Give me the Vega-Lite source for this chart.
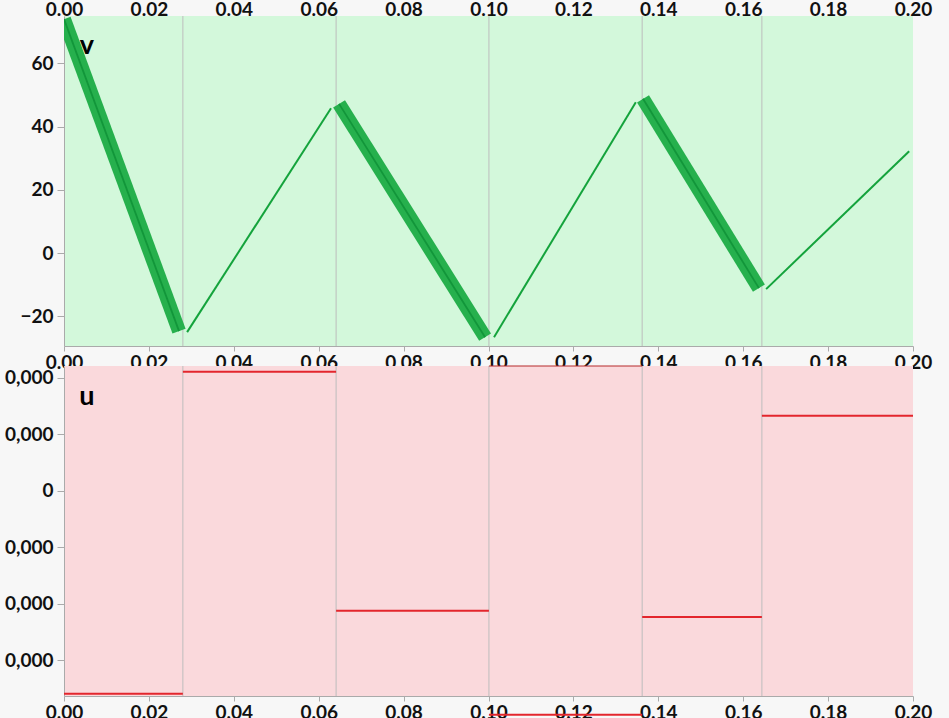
{
  "$schema": "https://vega.github.io/schema/vega-lite/v6.json",
  "background": "#f7f7f7",
  "padding": {"left": 4, "top": 0, "right": 17, "bottom": 0},
  "bounds": "flush",
  "spacing": 20,
  "config": {
    "font": "Lato",
    "view": {"stroke": null},
    "axis": {
      "labelFont": "Lato",
      "labelFontSize": 19,
      "labelFontWeight": "bold",
      "labelColor": "#111111",
      "domainColor": "#aaaaaa",
      "tickColor": "#aaaaaa",
      "grid": false
    }
  },
  "datasets": {
    "bounds": [{"x": 0.028}, {"x": 0.0641}, {"x": 0.1001}, {"x": 0.1362}, {"x": 0.1644}],
    "vthick": [
      {"seg": 1, "x": 0.0, "v": 74.0}, {"seg": 1, "x": 0.0271, "v": -24.7},
      {"seg": 3, "x": 0.0648, "v": 47.2}, {"seg": 3, "x": 0.0992, "v": -26.6},
      {"seg": 5, "x": 0.1364, "v": 48.8}, {"seg": 5, "x": 0.1637, "v": -11.1}
    ],
    "vthin": [
      {"seg": 2, "x": 0.029, "v": -25.0}, {"seg": 2, "x": 0.0629, "v": 45.8},
      {"seg": 4, "x": 0.1013, "v": -26.6}, {"seg": 4, "x": 0.1347, "v": 47.7},
      {"seg": 6, "x": 0.1654, "v": -11.4}, {"seg": 6, "x": 0.1991, "v": 32.2}
    ],
    "u": [
      {"x": 0.0, "x2": 0.028, "u": -0.000359},
      {"x": 0.028, "x2": 0.0641, "u": 0.000211},
      {"x": 0.0641, "x2": 0.1001, "u": -0.000212},
      {"x": 0.1001, "x2": 0.1362, "u": -0.000396},
      {"x": 0.1362, "x2": 0.1644, "u": -0.000223},
      {"x": 0.1644, "x2": 0.2, "u": 0.000133}
    ],
    "uedge": [{"x": 0.1001, "x2": 0.1362, "u": 0.000221}],
    "vlabel": [{"name": "v"}],
    "ulabel": [{"name": "u"}]
  },
  "vconcat": [
    {
      "width": 849,
      "height": 330,
      "view": {"fill": "#d3f8db", "stroke": null},
      "resolve": {"axis": {"x": "independent", "y": "independent"}},
      "layer": [
        {
          "data": {"name": "bounds"},
          "mark": {"type": "rule", "color": "#bdbdbd", "strokeWidth": 1},
          "encoding": {
            "x": {"field": "x", "type": "quantitative",
                  "scale": {"domain": [0, 0.2], "nice": false},
                  "axis": {"orient": "top", "ticks": false, "domain": false, "labelPadding": -3, "title": null,
                           "values": [0, 0.02, 0.04, 0.06, 0.08, 0.1, 0.12, 0.14, 0.16, 0.18, 0.2],
                           "format": ".2f", "labelFlush": false}}
          }
        },
        {
          "data": {"name": "vthick"},
          "mark": {"type": "line", "color": "#26b04d", "strokeWidth": 14, "strokeCap": "butt", "clip": true},
          "encoding": {
            "x": {"field": "x", "type": "quantitative",
                  "scale": {"domain": [0, 0.2], "nice": false},
                  "axis": {"orient": "bottom", "tickSize": 5, "labelPadding": 2, "title": null,
                           "values": [0, 0.02, 0.04, 0.06, 0.08, 0.1, 0.12, 0.14, 0.16, 0.18, 0.2],
                           "format": ".2f", "labelFlush": false}},
            "y": {"field": "v", "type": "quantitative",
                  "scale": {"domain": [-29.4, 75], "nice": false, "zero": false},
                  "axis": {"orient": "left", "values": [-20, 0, 20, 40, 60], "tickSize": 7, "labelPadding": 4, "title": null}},
            "detail": {"field": "seg"}
          }
        },
        {
          "data": {"name": "vthick"},
          "mark": {"type": "line", "color": "#12963a", "strokeWidth": 1.8, "clip": true},
          "encoding": {
            "x": {"field": "x", "type": "quantitative", "scale": {"domain": [0, 0.2], "nice": false}, "axis": null},
            "y": {"field": "v", "type": "quantitative", "scale": {"domain": [-29.4, 75], "nice": false, "zero": false}, "axis": null},
            "detail": {"field": "seg"}
          }
        },
        {
          "data": {"name": "vthin"},
          "mark": {"type": "line", "color": "#14a33c", "strokeWidth": 2},
          "encoding": {
            "x": {"field": "x", "type": "quantitative", "scale": {"domain": [0, 0.2], "nice": false}, "axis": null},
            "y": {"field": "v", "type": "quantitative", "scale": {"domain": [-29.4, 75], "nice": false, "zero": false}, "axis": null},
            "detail": {"field": "seg"}
          }
        },
        {
          "data": {"name": "vlabel"},
          "mark": {"type": "text", "font": "Lato", "fontSize": 27, "fontWeight": "bold", "color": "#000000", "align": "center", "baseline": "middle"},
          "encoding": {
            "text": {"field": "name"},
            "x": {"datum": 0.0054, "type": "quantitative", "scale": {"domain": [0, 0.2], "nice": false}, "axis": null},
            "y": {"datum": 65.4, "type": "quantitative", "scale": {"domain": [-29.4, 75], "nice": false, "zero": false}, "axis": null}
          }
        }
      ]
    },
    {
      "width": 849,
      "height": 330,
      "view": {"fill": "#fad9dc", "stroke": null},
      "resolve": {"axis": {"x": "independent", "y": "independent"}},
      "layer": [
        {
          "data": {"name": "bounds"},
          "mark": {"type": "rule", "color": "#bdbdbd", "strokeWidth": 1},
          "encoding": {
            "x": {"field": "x", "type": "quantitative", "scale": {"domain": [0, 0.2], "nice": false}, "axis": null}
          }
        },
        {
          "data": {"name": "u"},
          "mark": {"type": "rule", "color": "#e3262d", "strokeWidth": 2},
          "encoding": {
            "x": {"field": "x", "type": "quantitative",
                  "scale": {"domain": [0, 0.2], "nice": false},
                  "axis": {"orient": "bottom", "tickSize": 5, "labelPadding": 2, "title": null,
                           "values": [0, 0.02, 0.04, 0.06, 0.08, 0.1, 0.12, 0.14, 0.16, 0.18, 0.2],
                           "format": ".2f", "labelFlush": false}},
            "x2": {"field": "x2"},
            "y": {"field": "u", "type": "quantitative",
                  "scale": {"domain": [-0.000363, 0.000221], "nice": false, "zero": false},
                  "axis": {"orient": "left", "values": [-0.0003, -0.0002, -0.0001, 0, 0.0001, 0.0002], "tickSize": 7, "labelPadding": 4, "title": null,
                           "labelExpr": "datum.value == 0 ? '0' : '0,000'"}}
          }
        },
        {
          "data": {"name": "uedge"},
          "mark": {"type": "rule", "color": "#b52a2a", "strokeWidth": 1},
          "encoding": {
            "x": {"field": "x", "type": "quantitative", "scale": {"domain": [0, 0.2], "nice": false}, "axis": null},
            "x2": {"field": "x2"},
            "y": {"field": "u", "type": "quantitative", "scale": {"domain": [-0.000363, 0.000221], "nice": false, "zero": false}, "axis": null}
          }
        },
        {
          "data": {"name": "ulabel"},
          "mark": {"type": "text", "font": "Lato", "fontSize": 27, "fontWeight": "bold", "color": "#000000", "align": "center", "baseline": "middle"},
          "encoding": {
            "text": {"field": "name"},
            "x": {"datum": 0.0054, "type": "quantitative", "scale": {"domain": [0, 0.2], "nice": false}, "axis": null},
            "y": {"datum": 0.000166, "type": "quantitative", "scale": {"domain": [-0.000363, 0.000221], "nice": false, "zero": false}, "axis": null}
          }
        }
      ]
    }
  ]
}
